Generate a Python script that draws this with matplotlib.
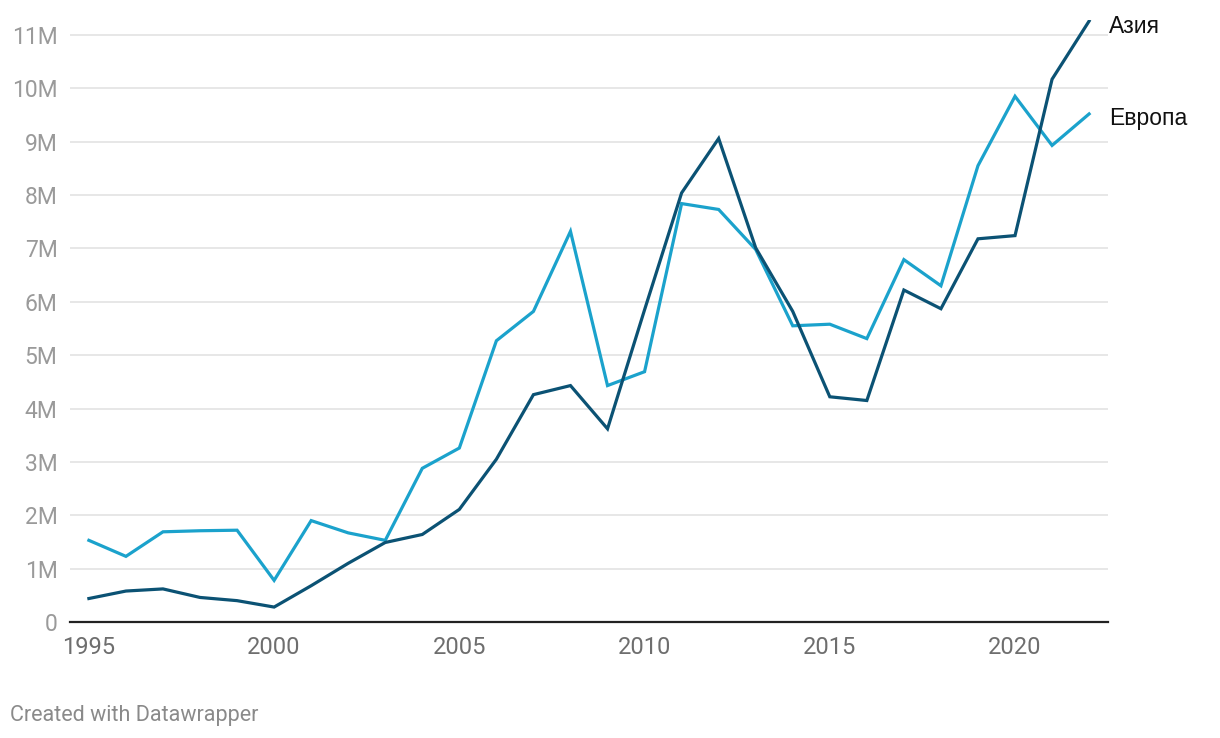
import matplotlib
matplotlib.use("Agg")
import matplotlib.pyplot as plt
from matplotlib.ticker import FuncFormatter

years = list(range(1995, 2023))
asia = [0.44, 0.58, 0.62, 0.46, 0.40, 0.28, 0.68, 1.10, 1.49, 1.64,
        2.11, 3.05, 4.26, 4.43, 3.62, 5.85, 8.04, 9.06, 7.01, 5.82,
        4.22, 4.15, 6.22, 5.87, 7.18, 7.24, 10.17, 11.26]
europe = [1.53, 1.23, 1.69, 1.71, 1.72, 0.78, 1.90, 1.67, 1.53, 2.88,
          3.26, 5.27, 5.82, 7.32, 4.43, 4.69, 7.84, 7.73, 6.98, 5.55,
          5.58, 5.31, 6.79, 6.30, 8.55, 9.85, 8.93, 9.52]
yticks = list(range(0, 12))
xticks = [1995, 2000, 2005, 2010, 2015, 2020]

plt.rcParams['font.family'] = ['Roboto', 'DejaVu Sans']

W, H = 1220, 738
fig = plt.figure(figsize=(W / 100, H / 100), dpi=100)
left, right, bottom, top = 70, 1108, 622, 20
ax = fig.add_axes([left / W, 1 - bottom / H, (right - left) / W, (bottom - top) / H])

c_asia = "#0b5274"
c_eu = "#1ba2cc"

ax.plot(years, europe, color=c_eu, lw=2.3, solid_joinstyle="miter", zorder=3)
ax.plot(years, asia, color=c_asia, lw=2.3, solid_joinstyle="miter", zorder=4)

ax.set_xlim(1994.49, 2022.51)
ax.set_ylim(0, 11.28)
ax.set_yticks(yticks)
ax.set_xticks(xticks)
ax.yaxis.set_major_formatter(FuncFormatter(lambda v, p: "0" if v == 0 else f"{int(v)}M"))
ax.grid(axis="y", color="#e3e3e3", lw=1.2, zorder=0)
ax.grid(axis="x", visible=False)
for s in ["top", "right", "left"]:
    ax.spines[s].set_visible(False)
ax.spines["bottom"].set_color("#222222")
ax.spines["bottom"].set_linewidth(1.6)
ax.spines["bottom"].set_zorder(5)
ax.tick_params(axis="y", length=0, pad=9, labelsize=16.5, labelcolor="#9a9a9a")
ax.tick_params(axis="x", length=0, pad=10, labelsize=17, labelcolor="#6e6e6e")

lab_font = ['Liberation Sans', 'DejaVu Sans']
ax.annotate("Азия", (2022.51, asia[-1]), xytext=(1, -4), textcoords="offset points",
            ha="left", va="center", fontsize=16.5, color="#111111", family=lab_font,
            annotation_clip=False)
ax.annotate("Европа", (2022.51, europe[-1]), xytext=(1, -3), textcoords="offset points",
            ha="left", va="center", fontsize=16.5, color="#111111", family=lab_font,
            annotation_clip=False)

fig.text(10 / W, 1 - 715 / H, "Created with Datawrapper", fontsize=15.5, color="#8a8a8a", ha="left", va="center")

fig.savefig("out.png", dpi=100, facecolor="white")
